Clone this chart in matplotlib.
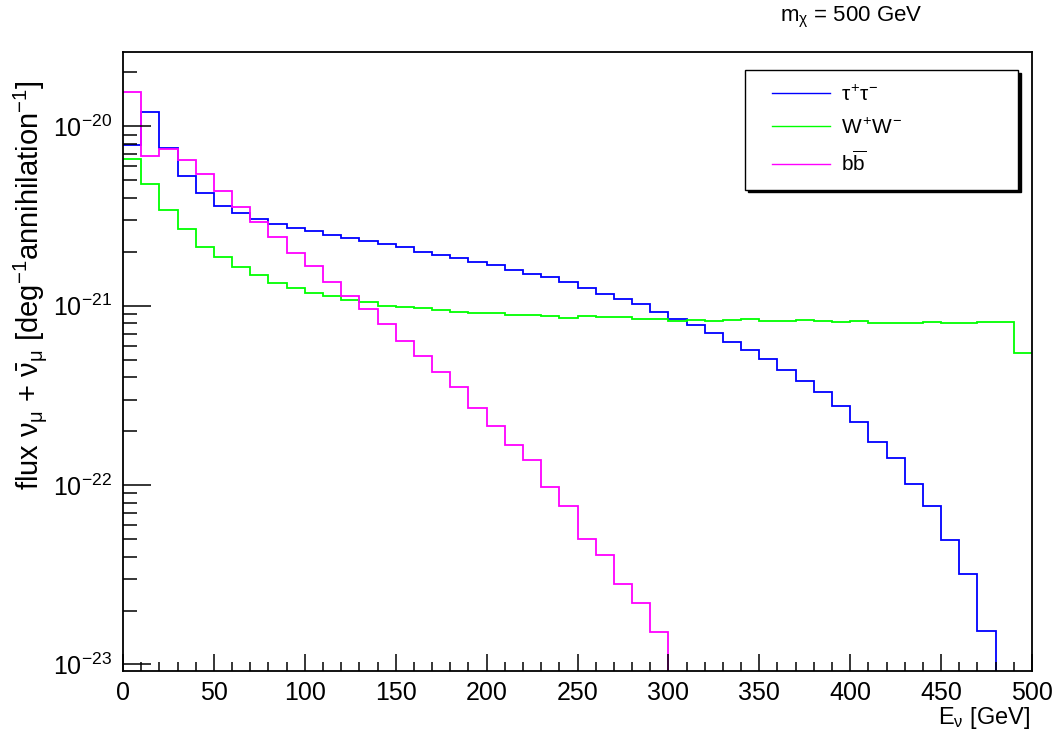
import matplotlib
matplotlib.use('Agg')
import matplotlib.pyplot as plt
import numpy as np
from matplotlib import font_manager
from matplotlib.ticker import MultipleLocator, LogLocator, LogFormatterMathtext, NullFormatter
from matplotlib.legend_handler import HandlerLine2D
from matplotlib.lines import Line2D

plt.rcParams['font.family'] = ['Liberation Sans', 'DejaVu Sans']
plt.rcParams['mathtext.fontset'] = 'custom'
plt.rcParams['mathtext.rm'] = 'Liberation Sans'
plt.rcParams['mathtext.it'] = 'Liberation Sans'
plt.rcParams['mathtext.bf'] = 'Liberation Sans:bold'

# bin edges in GeV (10 GeV bins)
edges = np.arange(0, 510, 10)

# flux per bin
tautau = [7.89e-21, 1.20e-20, 7.54e-21, 5.26e-21, 4.26e-21, 3.62e-21, 3.28e-21, 3.05e-21, 2.87e-21, 2.71e-21,
          2.60e-21, 2.48e-21, 2.39e-21, 2.30e-21, 2.20e-21, 2.12e-21, 2.00e-21, 1.92e-21, 1.84e-21, 1.76e-21,
          1.69e-21, 1.58e-21, 1.51e-21, 1.45e-21, 1.36e-21, 1.25e-21, 1.17e-21, 1.09e-21, 1.02e-21, 9.25e-22,
          8.49e-22, 7.79e-22, 7.06e-22, 6.29e-22, 5.68e-22, 5.06e-22, 4.37e-22, 3.83e-22, 3.29e-22, 2.75e-22,
          2.24e-22, 1.73e-22, 1.41e-22, 1.02e-22, 7.69e-23, 4.94e-23, 3.21e-23, 1.53e-23, 0, 0]

ww = [6.56e-21, 4.78e-21, 3.44e-21, 2.68e-21, 2.14e-21, 1.87e-21, 1.64e-21, 1.48e-21, 1.34e-21, 1.25e-21,
      1.18e-21, 1.13e-21, 1.08e-21, 1.05e-21, 1.00e-21, 9.82e-22, 9.66e-22, 9.50e-22, 9.18e-22, 9.06e-22,
      9.10e-22, 8.83e-22, 8.86e-22, 8.75e-22, 8.60e-22, 8.75e-22, 8.67e-22, 8.67e-22, 8.49e-22, 8.49e-22,
      8.20e-22, 8.37e-22, 8.18e-22, 8.29e-22, 8.45e-22, 8.26e-22, 8.20e-22, 8.30e-22, 8.18e-22, 8.12e-22,
      8.18e-22, 8.06e-22, 7.99e-22, 8.06e-22, 8.12e-22, 8.06e-22, 8.06e-22, 8.12e-22, 8.09e-22, 5.45e-22]

bb = [1.55e-20, 6.86e-21, 7.47e-21, 6.51e-21, 5.42e-21, 4.37e-21, 3.55e-21, 2.94e-21, 2.42e-21, 1.98e-21,
      1.66e-21, 1.36e-21, 1.14e-21, 9.57e-22, 7.87e-22, 6.34e-22, 5.26e-22, 4.28e-22, 3.51e-22, 2.70e-22,
      2.13e-22, 1.68e-22, 1.38e-22, 9.82e-23, 7.66e-23, 4.99e-23, 4.08e-23, 2.81e-23, 2.19e-23, 1.52e-23,
      0, 0, 0, 0, 0, 0, 0, 0, 0, 0,
      0, 0, 0, 0, 0, 0, 0, 0, 0, 0]

labels = [r'$\tau^{+}\tau^{-}$', r'$W^{+}W^{-}$', r'$b\overline{b}$']
colors = ['#0000ff', '#00ff00', '#ff00ff']

fig = plt.figure(figsize=(10.61, 7.42), dpi=100)
ax = fig.add_axes([0.1159, 0.0957, 0.8568, 0.8342])
ax.set_yscale('log', nonpositive='clip')

for vals, c in zip([tautau, ww, bb], colors):
    ax.stairs(vals, edges, baseline=None, color=c, lw=1.3)

ax.set_xlim(0, 500)
ax.set_ylim(9.2e-24, 2.6e-20)

ax.xaxis.set_major_locator(MultipleLocator(50))
ax.xaxis.set_minor_locator(MultipleLocator(10))
ax.yaxis.set_major_locator(LogLocator(base=10))
ax.yaxis.set_minor_locator(LogLocator(base=10, subs=np.arange(2, 10)))
ax.yaxis.set_major_formatter(LogFormatterMathtext())
ax.yaxis.set_minor_formatter(NullFormatter())

ax.tick_params(axis='both', which='both', direction='in', top=False, right=False, width=1.1)
ax.tick_params(axis='x', which='major', length=12, labelsize=18, pad=7)
ax.tick_params(axis='x', which='minor', length=6.5)
ax.tick_params(axis='y', which='major', length=20, labelsize=18, pad=8)
ax.tick_params(axis='y', which='minor', length=10)
for s in ax.spines.values():
    s.set_linewidth(1.3)

# legend with line proxies so the sample line can be inset a bit
handles = [Line2D([], [], color=c, lw=1.0) for c in colors]
leg = ax.legend(handles, labels, loc='upper left', bbox_to_anchor=(0.684, 0.782, 0.301, 0.189),
                mode='expand', fontsize=15, frameon=True, fancybox=False, edgecolor='black',
                framealpha=1, shadow={'color': 'black', 'alpha': 1}, borderpad=0.7,
                labelspacing=0.62, handlelength=3.4, handletextpad=0.5, borderaxespad=0,
                handler_map={Line2D: HandlerLine2D(xpad=0.6)})
leg.get_frame().set_linewidth(1.0)

# title in a narrow face if there is one
names = {f.name for f in font_manager.fontManager.ttflist}
if 'Liberation Sans Narrow' in names:
    tfam, tsize = ['Liberation Sans Narrow', 'Liberation Sans'], 17
else:
    tfam, tsize = ['Liberation Sans', 'DejaVu Sans'], 16
fig.text(0.802, 0.977, r'm$_{\mathdefault{χ}}$ = 500 GeV', ha='center', va='center',
         fontsize=tsize, family=tfam)
fig.text(0.971, 0.032, r'E$_{\nu}$ [GeV]', ha='right', va='center', fontsize=17)
fig.text(0.028, 1 - 80 / 742, r'flux $\nu_{\mu}$ + $\bar{\nu}_{\mu}$ [deg$^{-1}$annihilation$^{-1}$]',
         rotation=90, ha='center', va='top', fontsize=21)

fig.savefig('out.png', dpi=100)
